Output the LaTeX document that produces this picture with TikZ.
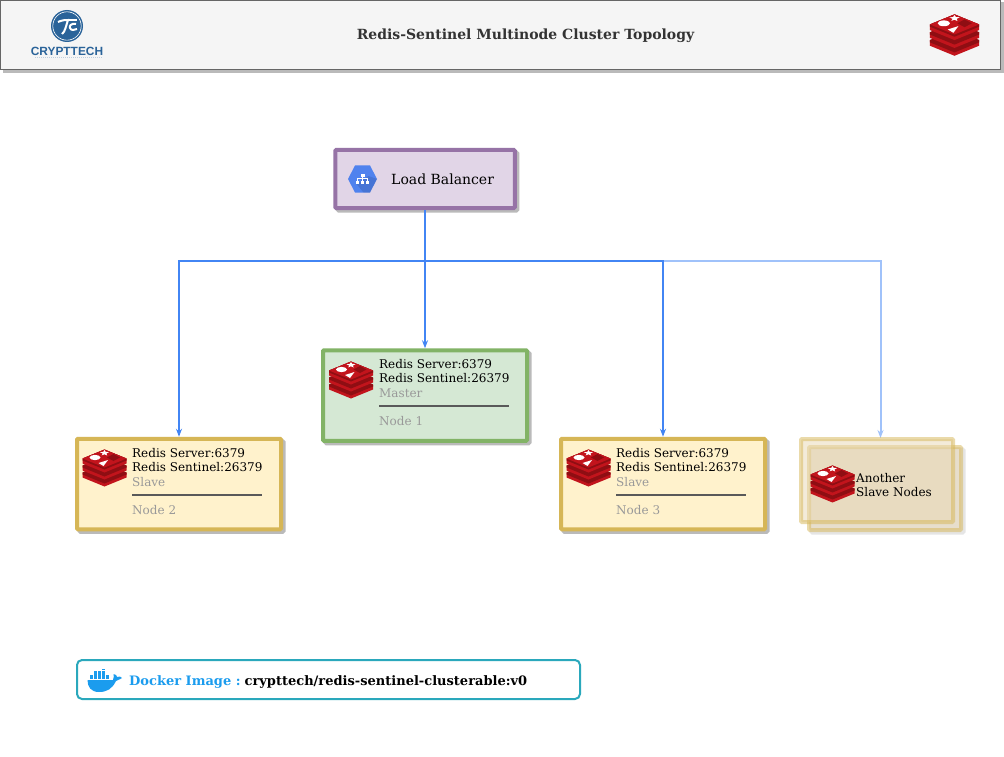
\documentclass[tikz,border=0pt]{standalone}
\usepackage{fontspec}
\setmainfont{DejaVu Serif}
\usetikzlibrary{arrows.meta,shadows}

\definecolor{linkblue}{HTML}{4285F4}
\definecolor{linklight}{HTML}{A0C2FA}
\definecolor{redisred}{HTML}{C2141C}
\definecolor{redisdark}{HTML}{8F0E13}
\definecolor{logoblue}{HTML}{2A6399}
\definecolor{dockerblue}{HTML}{1B9CEE}
\definecolor{dockerline}{HTML}{2AA8BC}
\definecolor{hexblue}{HTML}{4F82EE}
\definecolor{lbline}{HTML}{9673A6}
\definecolor{lbfill}{HTML}{E1D5E7}
\definecolor{masterline}{HTML}{82B366}
\definecolor{masterfill}{HTML}{D5E8D4}
\definecolor{slaveline}{HTML}{D6B656}
\definecolor{slavefill}{HTML}{FFF2CC}
\definecolor{othersfill}{HTML}{E9D9B5}

\tikzset{
    shade box/.style={drop shadow={shadow xshift=2.5pt, shadow yshift=-2.5pt, fill=black!27, draw=black!27, opacity=1}},
    box/.style={draw, line width=4pt, rounded corners=1pt, shade box, minimum width=204pt, minimum height=90.5pt},
    others box/.style={draw=slaveline, fill=othersfill, line width=4pt, rounded corners=1pt, opacity=0.5, minimum width=152pt, minimum height=83pt},
    plain text/.style={anchor=west, inner sep=0pt, font=\fontsize{12}{14}\selectfont},
    role text/.style={plain text, text=black!40},
    sep line/.style={black!65, line width=1.3pt},
    link/.style={draw=linkblue, line width=2pt, -{Stealth[length=8pt, width=6pt]}},
    redisicon/.pic={
        \foreach \dy in {14,7,0}{
            \fill[redisred] (-22, -9+\dy) -- (0, -18+\dy) -- (22, -9+\dy) -- (22, -4+\dy) -- (0, 5+\dy) -- (-22, -4+\dy) -- cycle;
            \fill[redisdark] (-22, -9+\dy) -- (0, -18+\dy) -- (22, -9+\dy) -- (22, -7+\dy) -- (0, 2+\dy) -- (-22, -7+\dy) -- cycle;
        }
        \fill[redisred] (-22, -9) -- (0, -18) -- (22, -9) -- (0, 0) -- cycle;
        \fill[white] (-9.5, -10) ellipse (5.5 and 2.6);
        \fill[white] (0, -17.5) -- (1.2, -15.6) -- (4.6, -15.4) -- (2, -14) -- (2.6, -12) -- (0, -13.2) -- (-2.8, -12.2) -- (-1.8, -14) -- (-4.6, -15.2) -- (-1.2, -15.6) -- cycle;
        \fill[white] (3.5, -7.5) -- (-6, -4.5) -- (-1, -1.5) -- cycle;
        \fill[redisdark] (2.5, -10) -- (9, -13.5) -- (15.5, -10) -- (9, -6.5) -- cycle;
    },
    hexicon/.pic={
        \fill[hexblue] (-14.5, 0) -- (-7.5, -13.5) -- (7.5, -13.5) -- (14.5, 0) -- (7.5, 13.5) -- (-7.5, 13.5) -- cycle;
        \fill[black, opacity=0.1] (6, -3) -- (14.5, 0) -- (7.5, 13.5) -- (1, 13.5) -- (-6, 5) -- cycle;
        \fill[white] (-2, -5) rectangle (2, -2);
        \fill[white] (-5.5, -0.8) rectangle (5.5, 0.2);
        \fill[white] (-5.5, 0) rectangle (-4.5, 2);
        \fill[white] (-0.5, -2) rectangle (0.5, 2);
        \fill[white] (4.5, 0) rectangle (5.5, 2);
        \fill[white] (-6.5, 2) rectangle (-3.5, 5);
        \fill[white] (-1.5, 2) rectangle (1.5, 5);
        \fill[white] (3.5, 2) rectangle (6.5, 5);
    },
    whaleicon/.pic={
        \fill[dockerblue] (-16.5, 0) -- (9, 0) .. controls (10, -3) and (10, -4) .. (9.5, -6) .. controls (12, -6) and (13, -4) .. (13, -3) .. controls (15, -4) and (17, -3.5) .. (18, -2) .. controls (15, 0) and (13, 0) .. (12, 1) .. controls (8, 9) and (3, 12) .. (-5, 12) .. controls (-13, 12) and (-16.5, 7) .. (-16.5, 0) -- cycle;
        \foreach \cx in {-14, -10, -6, -2, 2}{
            \fill[dockerblue] (\cx, -5) rectangle +(3.2, 4.3);
        }
        \foreach \cx in {-10, -6, -2}{
            \fill[dockerblue] (\cx, -9.2) rectangle +(3.2, 3.7);
        }
        \fill[dockerblue] (-2, -11.5) rectangle +(3.2, 1.8);
    },
    logoicon/.pic={
        \fill[logoblue] (0, 0) circle (16pt);
        \draw[white, line width=0.6pt] (0, 0) circle (14.2pt);
        \draw[white, line width=2pt] (-9, -4) .. controls (-5, -6) and (-1, -6) .. (1, -6) .. controls (-1, 0) and (-2, 6) .. (-5, 8);
        \draw[white, line width=2pt] (1, -6) -- (10, -6);
        \draw[white, line width=2pt] (9, -2) .. controls (4, -3) and (2, 0) .. (3, 2) .. controls (4, 5) and (8, 4) .. (10, 3);
    },
}

\begin{document}
\begin{tikzpicture}[x=1pt, y=-1pt]

        \useasboundingbox[fill=white] (0, 0) rectangle (1004, 757);

        % header
        \node[draw=black!60, fill=black!4, line width=1pt, minimum width=1000pt, minimum height=69.5pt, inner sep=0pt, shade box] (header) at (500.5, 35) {};
        \node[font=\fontsize{14}{16}\selectfont\bfseries, text=black!80] (title) at (525.5, 35.5) {Redis-Sentinel Multinode Cluster Topology};
        \pic (logo) at (67, 26) {logoicon};
        \node[font=\fontsize{11.9}{14}\selectfont\bfseries\fontspec{Liberation Sans}, text=logoblue, inner sep=0pt] (logotext) at (67, 51) {CRYPTTECH};
        \draw[logoblue!30, line width=0.8pt, dash pattern=on 1pt off 1pt] (35, 57) -- (102, 57);
        \pic[scale=1.12] (redistop) at (954.5, 34.5) {redisicon};

        % connectors first, boxes come over them
        \coordinate (bus) at (425, 261);
        \coordinate (otherstop) at (880.5, 438);
        \draw[link, draw=linklight, -{Stealth[length=8pt, width=6pt, fill=linklight]}] (bus) -| (otherstop);

        % load balancer
        \node[box, draw=lbline, fill=lbfill, minimum width=179.5pt, minimum height=58pt] (lb) at (425, 179) {};
        \pic (lbicon) at (362.5, 179) {hexicon};
        \node[plain text, font=\fontsize{14}{16}\selectfont] (lbtext) at (391, 179.5) {Load Balancer};

        % nodes
        \node[box, draw=masterline, fill=masterfill] (node1) at (425, 395.5) {};
        \node[box, draw=slaveline, fill=slavefill] (node2) at (179, 484) {};
        \node[box, draw=slaveline, fill=slavefill] (node3) at (663, 484) {};

        \draw[link, -] (lb) -- (bus);
        \draw[link] (bus) -- (node1.north);
        \draw[link] (bus) -| (node3.north);
        \draw[link] (bus) -| (node2.north);

        \pic (redis1) at (351, 379.5) {redisicon};
        \node[plain text] (server1) at (379, 364) {Redis Server:6379};
        \node[plain text] (sentinel1) at (379, 378) {Redis Sentinel:26379};
        \node[role text] (role1) at (379, 393) {Master};
        \node[role text] (name1) at (379, 421) {Node 1};
        \draw[sep line] (379, 406) -- (509, 406);

        \pic (redis2) at (104.5, 467.5) {redisicon};
        \node[plain text] (server2) at (132, 453) {Redis Server:6379};
        \node[plain text] (sentinel2) at (132, 467) {Redis Sentinel:26379};
        \node[role text] (role2) at (132, 482) {Slave};
        \node[role text] (name2) at (132, 510) {Node 2};
        \draw[sep line] (132, 495) -- (262, 495);

        \pic (redis3) at (588.5, 467.5) {redisicon};
        \node[plain text] (server3) at (616, 453) {Redis Server:6379};
        \node[plain text] (sentinel3) at (616, 467) {Redis Sentinel:26379};
        \node[role text] (role3) at (616, 482) {Slave};
        \node[role text] (name3) at (616, 510) {Node 3};
        \draw[sep line] (616, 495) -- (746, 495);

        % other slaves
        \node[others box, drop shadow={shadow xshift=2.5pt, shadow yshift=-2.5pt, fill=black!10, draw=black!10, opacity=1}] (others2) at (885, 488.5) {};
        \node[others box] (others1) at (877, 480.5) {};
        \pic (redis4) at (832.5, 483.5) {redisicon};
        \node[plain text] (otherstext1) at (856, 478) {Another};
        \node[plain text] (otherstext2) at (856, 492) {Slave Nodes};

        % docker
        \node[draw=dockerline, fill=white, line width=2pt, rounded corners=5pt, minimum width=503pt, minimum height=39pt] (docker) at (328.5, 679.5) {};
        \pic (whale) at (104, 680) {whaleicon};
        \node[plain text, font=\fontsize{13}{15}\selectfont\bfseries] (dockertext) at (129, 681.5) {\textcolor{dockerblue}{Docker Image :}\hspace{4pt}crypttech/redis-sentinel-clusterable:v0};

\end{tikzpicture}
\end{document}
